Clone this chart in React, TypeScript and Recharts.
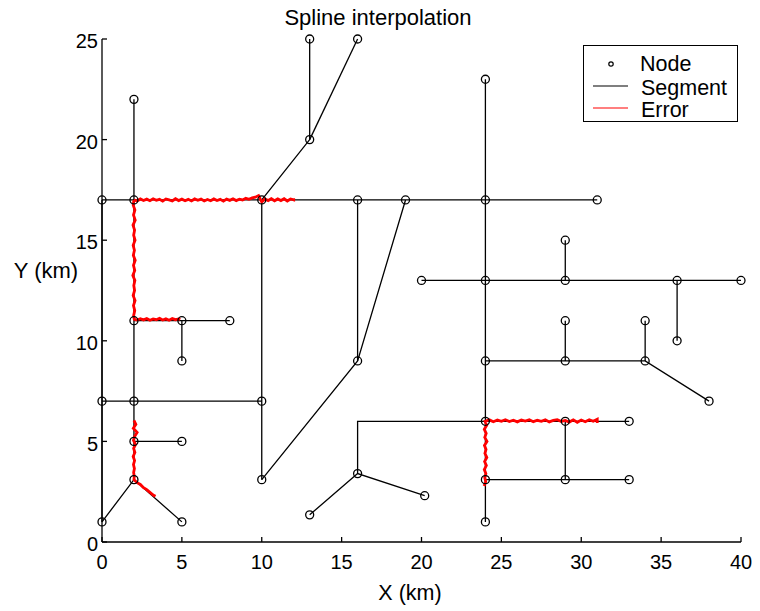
import { ComposedChart, Line, Scatter, XAxis, YAxis, Legend } from 'recharts';

type Pt = [number, number];

const xTicks = [0, 5, 10, 15, 20, 25, 30, 35, 40];
const yTicks = [0, 5, 10, 15, 20, 25];

// network nodes (km)
const nodePts: Pt[] = [
  [0, 17], [2, 17], [10, 17], [16, 17], [19, 17], [24, 17], [31, 17],
  [2, 22], [13, 25], [16, 25], [13, 20], [24, 23],
  [2, 11], [5, 11], [8, 11], [5, 9],
  [0, 7], [2, 7], [10, 7], [2, 5], [5, 5],
  [2, 3.1], [0, 1], [5, 1], [10, 3.1], [16, 9],
  [20, 13], [24, 13], [29, 13], [36, 13], [40, 13], [29, 15], [36, 10],
  [29, 11], [34, 11], [24, 9], [29, 9], [34, 9], [38, 7],
  [24, 6], [29, 6], [33, 6], [24, 3.1], [29, 3.1], [33, 3.1], [24, 1],
  [13, 1.35], [16, 3.4], [20.2, 2.3],
];

// network segments (polylines)
const segmentPaths: Pt[][] = [
  [[0, 17], [31, 17]],
  [[0, 1], [0, 17]],
  [[2, 3.1], [2, 22]],
  [[2, 11], [8, 11]],
  [[5, 11], [5, 9]],
  [[0, 7], [10, 7]],
  [[10, 17], [10, 3.1]],
  [[10, 3.1], [16, 9], [19, 17]],
  [[16, 9], [16, 17]],
  [[10, 17], [13, 20], [13, 25]],
  [[13, 20], [16, 25]],
  [[2, 5], [5, 5]],
  [[0, 1], [2, 3.1], [5, 1]],
  [[24, 1], [24, 23]],
  [[20, 13], [40, 13]],
  [[29, 13], [29, 15]],
  [[36, 13], [36, 10]],
  [[24, 9], [34, 9], [38, 7]],
  [[29, 9], [29, 11]],
  [[34, 9], [34, 11]],
  [[16, 3.4], [16, 6], [24, 6], [33, 6]],
  [[29, 6], [29, 3.1]],
  [[24, 3.1], [33, 3.1]],
  [[13, 1.35], [16, 3.4], [20.2, 2.3]],
];

// estimated (noisy) spline paths
const errTop: Pt[] = [
  [2, 17.0], [2.2, 16.95], [2.4, 17.05], [2.6, 16.97], [2.8, 17.04], [3.0, 16.96], [3.2, 17.06],
  [3.4, 16.98], [3.6, 17.03], [3.8, 16.94], [4.0, 17.05], [4.2, 17.0], [4.4, 16.95], [4.6, 17.06],
  [4.8, 16.97], [5.0, 17.04], [5.2, 16.96], [5.4, 17.03], [5.6, 16.95], [5.8, 17.05], [6.0, 16.98],
  [6.2, 17.04], [6.4, 16.95], [6.6, 17.02], [6.8, 16.96], [7.0, 17.05], [7.2, 16.97], [7.4, 17.03],
  [7.6, 16.94], [7.8, 17.04], [8.0, 16.98], [8.2, 17.06], [8.4, 16.97], [8.6, 17.04], [8.8, 17.0],
  [9.0, 17.08], [9.2, 17.03], [9.4, 17.1], [9.6, 17.14], [9.8, 17.22], [10.0, 16.9], [10.2, 17.05],
  [10.4, 16.97], [10.6, 17.06], [10.8, 16.96], [11.0, 17.05], [11.2, 16.97], [11.4, 17.06],
  [11.6, 16.95], [11.8, 17.05], [12.0, 17.0], [12.0, 17.08],
];
const errLeft: Pt[] = [
  [2.0, 17], [1.95, 16.75], [2.06, 16.5], [1.97, 16.25], [2.08, 16], [1.94, 15.75], [2.04, 15.5],
  [1.98, 15.25], [2.07, 15], [1.95, 14.75], [2.03, 14.5], [1.96, 14.25], [2.08, 14], [1.97, 13.75],
  [2.05, 13.5], [1.93, 13.25], [2.06, 13], [1.99, 12.75], [2.04, 12.5], [1.95, 12.25], [2.07, 12],
  [1.97, 11.75], [2.05, 11.5], [1.98, 11.25], [2.02, 11.07],
  [2.2, 11.03], [2.4, 11.1], [2.6, 11.04], [2.8, 11.11], [3.0, 11.02], [3.2, 11.09], [3.4, 11.05],
  [3.6, 11.12], [3.8, 11.03], [4.0, 11.09], [4.2, 11.02], [4.4, 11.11], [4.6, 11.05], [4.8, 11.09], [4.9, 11.06],
];
const errLow: Pt[] = [
  [2.0, 6.05], [2.12, 5.85], [1.96, 5.65], [2.2, 5.45], [2.05, 5.25], [1.97, 5.05], [2.1, 4.85],
  [1.98, 4.65], [2.06, 4.45], [1.95, 4.25], [2.04, 4.05], [1.97, 3.85], [2.03, 3.65], [1.98, 3.45],
  [2.02, 3.25], [2.0, 3.1],
  [2.2, 2.95], [2.4, 2.86], [2.6, 2.7], [2.8, 2.6], [3.0, 2.47], [3.2, 2.33], [3.35, 2.27],
];
const errRight: Pt[] = [
  [23.92, 2.78], [24.02, 3.0], [23.96, 3.2], [24.03, 3.4], [23.93, 3.6], [24.06, 3.8], [23.95, 4.0],
  [24.09, 4.2], [23.97, 4.4], [24.04, 4.6], [23.94, 4.8], [24.1, 5.0], [23.96, 5.2], [24.05, 5.4],
  [23.93, 5.6], [24.08, 5.8], [23.98, 6.0],
  [24.25, 6.07], [24.5, 5.98], [24.75, 6.06], [25.0, 6.0], [25.25, 6.08], [25.5, 5.99], [25.75, 6.05],
  [26.0, 5.97], [26.25, 6.06], [26.5, 6.01], [26.75, 6.08], [27.0, 5.98], [27.25, 6.05], [27.5, 6.0],
  [27.75, 6.07], [28.0, 5.97], [28.25, 6.04], [28.5, 6.08], [28.75, 5.99], [29.0, 6.04], [29.25, 5.96],
  [29.5, 6.07], [29.75, 5.95], [30.0, 6.06], [30.25, 5.98], [30.5, 6.08], [30.75, 6.0], [31.0, 6.1], [31.0, 5.92],
];
const errorPaths = [errTop, errLeft, errLow, errRight];

const toXY = (pts: Pt[]) => pts.map(([x, y]) => ({ x, y }));

const FONT = '"Liberation Sans", Arial, sans-serif';

const NodeShape = (props: any) => (
  <circle cx={props.cx} cy={props.cy} r={4} fill="none" stroke="#000" strokeWidth={1.3} />
);

const NetLegend = () => (
  <svg width={156} height={82} style={{ display: 'block', fontFamily: FONT, overflow: 'visible' }}>
    <rect x={0.5} y={0.5} width={154} height={76} fill="#fff" stroke="#000" strokeWidth={1} />
    <circle cx={28} cy={19} r={2.2} fill="none" stroke="#000" strokeWidth={1.2} />
    <text x={57} y={26} fontSize={21.5} fill="#000">Node</text>
    <line x1={10} x2={45} y1={41} y2={41} stroke="#000" strokeWidth={1.2} />
    <text x={58} y={50} fontSize={21.5} fill="#000">Segment</text>
    <line x1={10} x2={45} y1={63} y2={63} stroke="#ff0000" strokeWidth={1.2} />
    <text x={58} y={72} fontSize={21.5} fill="#000">Error</text>
  </svg>
);

export default function App() {
  return (
    <div style={{ position: 'absolute', left: 0, top: 0, width: 760, height: 611, fontFamily: FONT, background: '#fff' }}>
      <ComposedChart width={760} height={611} margin={{ top: 39, right: 19, bottom: 9, left: 42 }}>
        <XAxis
          type="number"
          dataKey="x"
          domain={[0, 40]}
          ticks={xTicks}
          height={60}
          tickSize={-5}
          tickMargin={18}
          axisLine={{ stroke: '#000', strokeWidth: 1.3 }}
          tickLine={{ stroke: '#000', strokeWidth: 1.3 }}
          tick={{ fill: '#000', fontSize: 20, fontFamily: FONT }}
          label={{
            content: () => (
              <text x={410} y={600} textAnchor="middle" fontSize={21.5} fill="#000" fontFamily={FONT}>X (km)</text>
            ),
          }}
        />
        <YAxis
          type="number"
          dataKey="y"
          domain={[0, 25]}
          ticks={yTicks}
          width={60}
          tickSize={-5}
          tickMargin={9}
          axisLine={{ stroke: '#000', strokeWidth: 1.3 }}
          tickLine={{ stroke: '#000', strokeWidth: 1.3 }}
          tick={{ fill: '#000', fontSize: 20, fontFamily: FONT, dy: 2 }}
          label={{
            content: () => (
              <text x={46} y={278} textAnchor="middle" fontSize={22} fill="#000" fontFamily={FONT}>Y (km)</text>
            ),
          }}
        />
        {segmentPaths.map((seg, i) => (
          <Line
            key={'s' + i}
            data={toXY(seg)}
            dataKey="y"
            type="linear"
            stroke="#000"
            strokeWidth={1.3}
            dot={false}
            activeDot={false}
            isAnimationActive={false}
          />
        ))}
        <Scatter data={toXY(nodePts)} shape={NodeShape} isAnimationActive={false} />
        {errorPaths.map((p, i) => (
          <Line
            key={'e' + i}
            data={toXY(p)}
            dataKey="y"
            type="linear"
            stroke="#ff0000"
            strokeWidth={2.8}
            dot={false}
            activeDot={false}
            isAnimationActive={false}
          />
        ))}
        <Legend
          content={NetLegend}
          layout="horizontal"
          verticalAlign="middle"
          align="center"
          wrapperStyle={{ left: 583, top: 45, width: 156, height: 82 }}
        />
      </ComposedChart>
      <div
        style={{
          position: 'absolute',
          left: 0,
          top: 7,
          width: 756,
          textAlign: 'center',
          fontSize: 22,
          lineHeight: '22px',
          color: '#000',
        }}
      >
        Spline interpolation
      </div>
    </div>
  );
}
